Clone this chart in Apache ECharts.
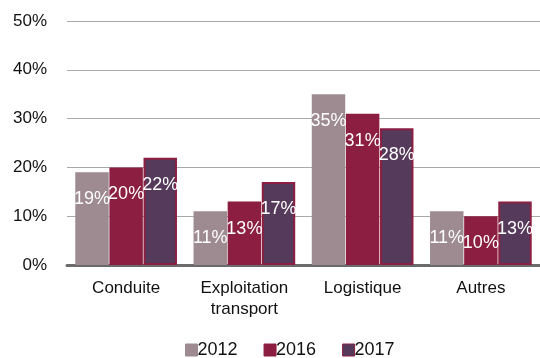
<!DOCTYPE html>
<html>
<head>
<meta charset="utf-8">
<style>html,body{margin:0;padding:0;background:#fff}#chart{width:540px;height:358px}</style>
<script src="https://cdn.jsdelivr.net/npm/echarts@6/dist/echarts.min.js"></script>
</head>
<body>
<div id="chart"></div>
<script>
const categories = ['Conduite', 'Exploitation\ntransport', 'Logistique', 'Autres'];
const years = ['2012', '2016', '2017'];
const values2012 = [19, 11, 35, 11];
const values2016 = [20, 13, 31, 10];
const values2017 = [22, 17, 28, 13];
const yTicks = [0, 10, 20, 30, 40, 50];

const fills = ['#9d8b91', '#8c1f41', '#553a5b'];
const borders = ['#9d8b91', '#8c1f41', '#8c1f41'];
const font = 'Liberation Sans, Arial, sans-serif';

const chart = echarts.init(document.getElementById('chart'));
const seriesData = [values2012, values2016, values2017];

chart.setOption({
  animation: false,
  grid: { left: 67, right: -8, top: 21, bottom: 93 },
  legend: {
    top: 336,
    left: 180,
    itemWidth: 12,
    itemHeight: 12,
    itemGap: 26,
    icon: 'rect',
    textStyle: { fontFamily: font, fontSize: 18, color: '#111', padding: [0, 0, 0, -5] },
    data: years.map((y, i) => ({ name: y, itemStyle: { color: fills[i], borderColor: borders[i], borderWidth: 1 } }))
  },
  xAxis: {
    type: 'category',
    data: categories,
    axisLine: { lineStyle: { color: '#6b6b6b', width: 3 } },
    axisTick: { show: false },
    axisLabel: { fontFamily: font, fontSize: 17, color: '#111', margin: 13, lineHeight: 21 }
  },
  yAxis: {
    type: 'value',
    min: yTicks[0],
    max: yTicks[yTicks.length - 1],
    interval: 10,
    axisLine: { show: false },
    axisTick: { show: false },
    splitLine: { lineStyle: { color: '#a9a9a9', width: 1 } },
    axisLabel: { fontFamily: font, fontSize: 17, color: '#111', margin: 20, formatter: v => v + '%' }
  },
  series: years.map((y, i) => ({
    name: y,
    type: 'bar',
    data: seriesData[i],
    barGap: '2%',
    barCategoryGap: '14%',
    itemStyle: { color: fills[i], borderColor: borders[i], borderWidth: i === 2 ? 2 : 0 },
    label: {
      show: true,
      position: 'insideTop',
      distance: 18,
      color: '#fff',
      fontFamily: font,
      fontSize: 18,
      formatter: p => p.value + '%'
    }
  }))
});
</script>
</body>
</html>
